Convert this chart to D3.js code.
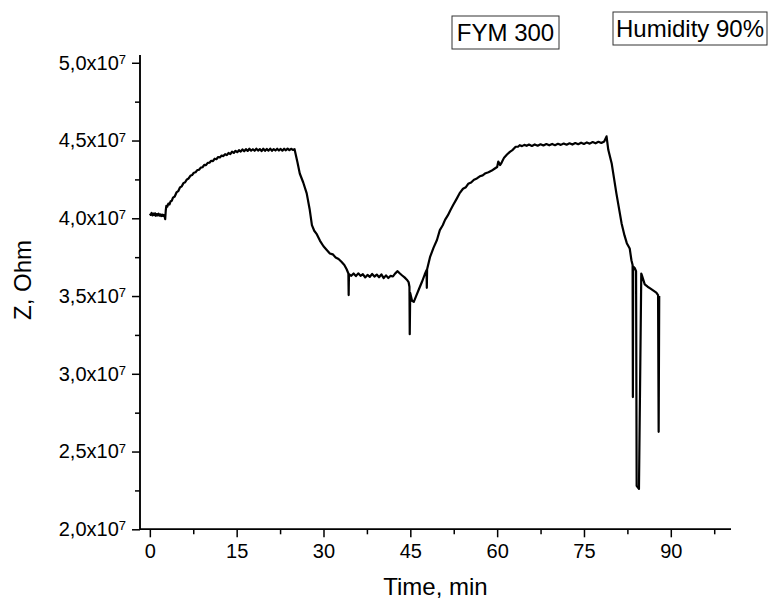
<!DOCTYPE html>
<html>
<head>
<meta charset="utf-8">
<script src="https://cdn.jsdelivr.net/npm/d3@7"></script>
<style>
    body { margin: 0; background: #fff; }
    svg { display: block; font-family: 'Liberation Sans', Arial, sans-serif; }
</style>
</head>
<body>
<div id="chart"></div>
<script>
// time, min
const timeMin = [
    0.0, 0.15, 0.3, 0.45, 0.6, 0.75, 0.9, 1.05, 1.2, 1.35, 1.5, 1.65, 1.8, 1.95, 2.1, 2.25, 2.4, 2.55, 2.65, 2.75,
    2.85, 3.0, 3.2, 3.4, 3.6, 3.8, 4.0, 4.3, 4.6, 4.9, 5.2, 5.5, 5.8, 6.1, 6.4, 6.7, 7.0, 7.3, 7.6, 7.9,
    8.2, 8.5, 8.8, 9.1, 9.4, 9.7, 10.0, 10.3, 10.6, 10.9, 11.2, 11.5, 11.8, 12.1, 12.4, 12.7, 13.0, 13.3, 13.6, 13.9,
    14.2, 14.5, 14.8, 15.1, 15.4, 15.7, 16.0, 16.3, 16.6, 16.9, 17.2, 17.5, 17.8, 18.1, 18.4, 18.7, 19.0, 19.3, 19.6, 19.9,
    20.2, 20.5, 20.8, 21.1, 21.4, 21.7, 22.0, 22.3, 22.6, 22.9, 23.2, 23.5, 23.8, 24.1, 24.4, 24.7, 25.0, 25.5, 25.9, 26.5,
    27.1, 27.6, 28.0, 28.4, 28.8, 29.4, 30.0, 30.6, 31.1, 31.6, 32.1, 32.6, 33.1, 33.6, 34.0, 34.3, 34.35, 34.4, 34.8, 35.2,
    35.6, 36.0, 36.4, 36.8, 37.2, 37.6, 38.0, 38.4, 38.8, 39.2, 39.6, 40.0, 40.4, 40.8, 41.2, 41.6, 42.0, 42.4, 42.8, 43.2,
    43.6, 44.0, 44.4, 44.7, 44.85, 44.9, 44.98, 45.3, 45.6, 46.0, 46.5, 47.0, 47.5, 47.8, 47.85, 47.9, 48.4, 49.0, 49.6, 50.1,
    50.6, 51.0, 51.5, 51.9, 52.4, 53.0, 53.5, 54.1, 54.6, 55.0, 55.5, 56.0, 56.5, 57.0, 57.5, 58.0, 58.5, 59.0, 59.6, 60.0,
    60.2, 60.5, 60.8, 61.2, 61.7, 62.2, 62.7, 63.2, 63.6, 63.9, 64.3, 64.7, 65.1, 65.5, 66.0, 66.5, 67.0, 67.5, 68.0, 68.5,
    69.0, 69.5, 70.0, 70.5, 71.0, 71.5, 72.0, 72.5, 73.0, 73.5, 74.0, 74.5, 75.0, 75.5, 76.0, 76.5, 77.0, 77.5, 78.0, 78.5,
    78.9, 79.2, 79.8, 80.6, 81.5, 82.0, 82.4, 82.9, 83.2, 83.4, 83.45, 83.5, 83.8, 84.0, 84.1, 84.5, 84.9, 85.0, 85.5, 86.0,
    86.5, 87.0, 87.5, 87.8, 87.9, 88.0
];

// Z, in units of 10^7 Ohm
const zOhm = [
    4.030, 4.022, 4.034, 4.018, 4.030, 4.021, 4.032, 4.016, 4.027, 4.019, 4.029, 4.017, 4.025, 4.014, 4.024, 4.015, 4.021, 4.012, 3.995, 4.050,
    4.080, 4.074, 4.095, 4.090, 4.110, 4.113, 4.133, 4.140, 4.166, 4.174, 4.198, 4.205, 4.226, 4.232, 4.250, 4.256, 4.273, 4.278, 4.293, 4.296,
    4.310, 4.312, 4.326, 4.328, 4.343, 4.342, 4.356, 4.357, 4.370, 4.368, 4.383, 4.380, 4.394, 4.391, 4.403, 4.400, 4.412, 4.406, 4.420, 4.413,
    4.428, 4.420, 4.434, 4.425, 4.438, 4.429, 4.443, 4.431, 4.445, 4.433, 4.447, 4.435, 4.444, 4.434, 4.448, 4.435, 4.445, 4.432, 4.447, 4.434,
    4.446, 4.435, 4.448, 4.434, 4.445, 4.436, 4.447, 4.436, 4.446, 4.435, 4.447, 4.437, 4.448, 4.438, 4.447, 4.440, 4.444, 4.360, 4.288, 4.230,
    4.160, 4.060, 3.956, 3.920, 3.900, 3.855, 3.820, 3.795, 3.774, 3.768, 3.748, 3.738, 3.720, 3.700, 3.672, 3.645, 3.506, 3.640, 3.630, 3.645,
    3.628, 3.646, 3.630, 3.640, 3.620, 3.636, 3.623, 3.642, 3.625, 3.638, 3.621, 3.639, 3.615, 3.633, 3.616, 3.630, 3.626, 3.646, 3.660, 3.645,
    3.632, 3.620, 3.605, 3.590, 3.560, 3.255, 3.520, 3.470, 3.463, 3.500, 3.545, 3.590, 3.640, 3.667, 3.553, 3.672, 3.750, 3.810, 3.860, 3.924,
    3.955, 3.990, 4.020, 4.050, 4.085, 4.125, 4.160, 4.190, 4.200, 4.222, 4.230, 4.248, 4.256, 4.270, 4.276, 4.290, 4.296, 4.305, 4.320, 4.330,
    4.365, 4.342, 4.360, 4.390, 4.410, 4.427, 4.440, 4.460, 4.460, 4.470, 4.464, 4.472, 4.466, 4.474, 4.465, 4.475, 4.467, 4.476, 4.468, 4.477,
    4.469, 4.478, 4.470, 4.479, 4.472, 4.481, 4.473, 4.482, 4.474, 4.484, 4.476, 4.486, 4.478, 4.488, 4.480, 4.490, 4.482, 4.492, 4.484, 4.494,
    4.527, 4.440, 4.350, 4.160, 3.967, 3.890, 3.840, 3.806, 3.730, 3.700, 2.850, 3.690, 3.678, 3.660, 2.280, 2.260, 3.645, 3.634, 3.575, 3.560,
    3.548, 3.535, 3.522, 3.506, 2.627, 3.500
];

const xTicks = [0, 15, 30, 45, 60, 75, 90];
const yTicks = [2.0, 2.5, 3.0, 3.5, 4.0, 4.5, 5.0];
const labels = ['FYM 300', 'Humidity 90%'];

class ImpedanceChart {

    width; height;
    svg; x; y;

    constructor(container, width, height) {
        this.width = width;
        this.height = height;

        this.svg = d3.select(container).append('svg')
            .attr('width', width)
            .attr('height', height);

        // axis frame
        this.x = d3.scaleLinear().domain([-1.7, 100.4]).range([140, 731]);
        this.y = d3.scaleLinear().domain([2.0, 5.05]).range([529.3, 55]);
    }

    #drawAxes() {
        const x = this.x, y = this.y;

        const xMinor = d3.range(7.5, 100, 15);
        const yMinor = d3.range(2.25, 5.0, 0.5);

        // x axis
        const gx = this.svg.append('g')
            .attr('transform', `translate(0,${y(2.0)})`);
        gx.append('g').call(d3.axisBottom(x).tickValues(xMinor).tickSize(5).tickFormat(''));
        gx.append('g').call(d3.axisBottom(x).tickValues(xTicks).tickSize(8).tickPadding(7).tickSizeOuter(0));
        gx.selectAll('.domain').attr('d', `M${x.range()[0]},0H${x.range()[1]}`);
        gx.selectAll('line, path').attr('stroke', '#000').attr('stroke-width', 1.5);
        gx.selectAll('text')
            .attr('font-size', 20)
            .attr('font-family', 'Liberation Sans, Arial, sans-serif')
            .attr('fill', '#000');

        // y axis
        const gy = this.svg.append('g')
            .attr('transform', `translate(${x(-1.7)},0)`);
        gy.append('g').call(d3.axisLeft(y).tickValues(yMinor).tickSize(5).tickFormat(''));
        const major = gy.append('g').call(d3.axisLeft(y).tickValues(yTicks).tickSize(8).tickPadding(6).tickSizeOuter(0));
        gy.selectAll('.domain').attr('d', `M0,${y.range()[0]}V${y.range()[1]}`);
        gy.selectAll('line, path').attr('stroke', '#000').attr('stroke-width', 1.5);

        // mantissa with comma, then x10 and superscript 7
        major.selectAll('text')
            .attr('font-size', 20)
            .attr('font-family', 'Liberation Sans, Arial, sans-serif')
            .attr('fill', '#000')
            .text(null)
            .each(function (d) {
                const t = d3.select(this);
                t.append('tspan').text(d.toFixed(1).replace('.', ',') + 'x10');
                t.append('tspan')
                    .attr('font-size', 13)
                    .attr('dy', '-0.45em')
                    .text('7');
            });

        // axis titles
        this.svg.append('text')
            .attr('x', (x.range()[0] + x.range()[1]) / 2)
            .attr('y', 595)
            .attr('text-anchor', 'middle')
            .attr('font-size', 24)
            .text('Time, min');

        this.svg.append('text')
            .attr('transform', 'translate(31,280) rotate(-90)')
            .attr('text-anchor', 'middle')
            .attr('font-size', 24)
            .text('Z, Ohm');
    }

    #drawLine() {
        const pts = timeMin.map((t, i) => [t, zOhm[i]]);
        const line = d3.line()
            .x(d => this.x(d[0]))
            .y(d => this.y(d[1]));

        this.svg.append('path')
            .datum(pts)
            .attr('fill', 'none')
            .attr('stroke', '#000')
            .attr('stroke-width', 2.2)
            .attr('stroke-linejoin', 'round')
            .attr('d', line);
    }

    #drawLabels() {
        // boxed labels at the top right
        const boxes = [
            { text: labels[0], x: 452, y: 16, w: 107, h: 33 },
            { text: labels[1], x: 613, y: 12, w: 154, h: 33 }
        ];
        const g = this.svg.append('g');
        g.selectAll('rect')
            .data(boxes)
            .join('rect')
            .attr('x', d => d.x)
            .attr('y', d => d.y)
            .attr('width', d => d.w)
            .attr('height', d => d.h)
            .attr('fill', '#fff')
            .attr('stroke', '#333')
            .attr('stroke-width', 1);
        g.selectAll('text')
            .data(boxes)
            .join('text')
            .attr('x', d => d.x + d.w / 2)
            .attr('y', d => d.y + d.h - 8)
            .attr('text-anchor', 'middle')
            .attr('font-size', 24)
            .text(d => d.text);
    }

    render() {
        this.#drawAxes();
        this.#drawLine();
        this.#drawLabels();
        return this;
    }
}

new ImpedanceChart('#chart', 774, 606).render();
</script>
</body>
</html>
